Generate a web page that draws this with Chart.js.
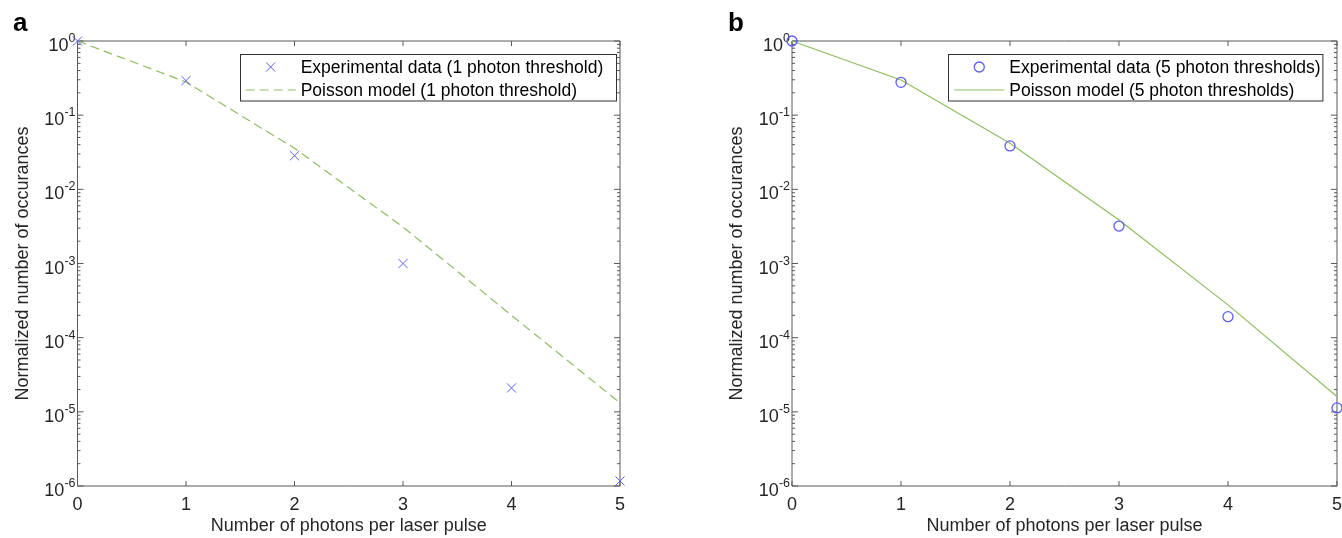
<!DOCTYPE html>
<html>
<head>
<meta charset="utf-8">
<script src="https://cdn.jsdelivr.net/npm/chart.js@4.4.0/dist/chart.umd.min.js"></script>
<style>
  html, body { margin: 0; background: #fff; overflow: hidden; }
  #wrap { position: relative; width: 1342px; height: 538px; overflow: hidden; }
  .panel { position: absolute; top: 0; height: 538px; }
</style>
</head>
<body>
<div id="wrap">
  <div class="panel" style="left:0;width:640px"><canvas id="chartA"></canvas></div>
  <div class="panel" style="left:680px;width:670px"><canvas id="chartB"></canvas></div>
</div>
<script>
// values
const photons = [0, 1, 2, 3, 4, 5];
const expOne = [1, 0.292, 0.0284, 0.00100, 2.1e-5, 1.17e-6];
const modelOne = [1, 0.28, 0.0358, 0.0031, 2.0e-4, 1.32e-5];
const expFive = [1, 0.277, 0.0385, 0.0032, 1.92e-4, 1.13e-5];
const modelFive = [1, 0.298, 0.0418, 0.00387, 2.77e-4, 1.61e-5];
const decades = [0, -1, -2, -3, -4, -5, -6];

const xTitle = 'Number of photons per laser pulse';
const yTitle = 'Normalized number of occurances';
const FONT = '"Liberation Sans", Arial, sans-serif';
const INK = '#262626';
const BLUE = '#5c5cff';
const GREEN = '#8cbf5c';

Chart.defaults.color = INK;
Chart.defaults.font.family = FONT;

const pts = (ys) => photons.map((x, i) => ({ x: x, y: ys[i] }));

// MATLAB-like box, inward ticks, superscript tick labels, legend, panel letter
const matlabAxes = {
  id: 'matlabAxes',
  beforeDatasetsDraw(chart) {
    const { ctx, chartArea: a, scales: { x, y } } = chart;
    ctx.save();
    ctx.strokeStyle = '#5a5a5a';
    ctx.lineWidth = 1;
    ctx.beginPath();
    ctx.rect(a.left, a.top, a.right - a.left, a.bottom - a.top);
    photons.forEach(v => {
      const px = x.getPixelForValue(v);
      ctx.moveTo(px, a.bottom); ctx.lineTo(px, a.bottom - 5);
      ctx.moveTo(px, a.top); ctx.lineTo(px, a.top + 5);
    });
    decades.forEach(d => {
      const py = y.getPixelForValue(Math.pow(10, d));
      ctx.moveTo(a.left, py); ctx.lineTo(a.left + 6, py);
      ctx.moveTo(a.right, py); ctx.lineTo(a.right - 6, py);
      if (d < 0) {
        for (let k = 2; k < 10; k++) {
          const pm = y.getPixelForValue(k * Math.pow(10, d));
          ctx.moveTo(a.left, pm); ctx.lineTo(a.left + 3, pm);
          ctx.moveTo(a.right, pm); ctx.lineTo(a.right - 3, pm);
        }
      }
    });
    ctx.stroke();

    // y tick labels 10^n
    ctx.fillStyle = INK;
    ctx.textBaseline = 'alphabetic';
    ctx.textAlign = 'left';
    decades.forEach(d => {
      const py = y.getPixelForValue(Math.pow(10, d));
      const ex = d === 0 ? '0' : '-' + (-d);
      ctx.font = '12.5px ' + FONT;
      const we = ctx.measureText(ex).width;
      ctx.font = '18px ' + FONT;
      const wb = ctx.measureText('10').width;
      const right = a.left - 2;
      ctx.fillText('10', right - we - wb, py + 10);
      ctx.font = '12.5px ' + FONT;
      ctx.fillText(ex, right - we, py + 1);
    });
    ctx.restore();
  },
  afterDraw(chart, args, o) {
    const { ctx, chartArea: a } = chart;
    ctx.save();
    // panel letter
    ctx.fillStyle = '#000';
    ctx.font = 'bold 26px ' + FONT;
    ctx.textBaseline = 'alphabetic';
    ctx.fillText(o.letter, o.letterX, 31);

    // legend
    const bx = a.right - o.inset - o.width;
    const by = a.top + 13;
    ctx.fillStyle = '#fff';
    ctx.fillRect(bx, by, o.width, o.height);
    ctx.strokeStyle = '#333';
    ctx.lineWidth = 1;
    ctx.strokeRect(Math.round(bx) + 0.5, Math.round(by) + 0.5, o.width, o.height);
    chart.data.datasets.forEach((ds, i) => {
      const cy = by + 13 + i * 23;
      const sx0 = bx + 6, sx1 = bx + 56;
      ctx.save();
      ctx.strokeStyle = ds.borderColor;
      ctx.lineWidth = ds.borderWidth;
      if (ds.showLine) {
        ctx.setLineDash(ds.borderDash || []);
        ctx.beginPath();
        ctx.moveTo(sx0, cy); ctx.lineTo(sx1, cy);
        ctx.stroke();
      } else {
        Chart.helpers.drawPoint(ctx, {
          pointStyle: ds.pointStyle, radius: ds.pointRadius,
          borderWidth: ds.borderWidth, rotation: 0
        }, (sx0 + sx1) / 2, cy);
      }
      ctx.restore();
      ctx.fillStyle = '#000';
      ctx.font = '17.5px ' + FONT;
      ctx.textBaseline = 'middle';
      ctx.fillText(ds.label, bx + 61, cy + 1);
    });
    ctx.restore();
  }
};

function makeChart(id, sets, yWidth, yTitlePad, padRight, legendOpts) {
  return new Chart(document.getElementById(id), {
    type: 'scatter',
    data: { datasets: sets },
    options: {
      responsive: true,
      maintainAspectRatio: false,
      animation: false,
      events: [],
      layout: { padding: { top: 41, right: padRight, bottom: 0, left: 0 } },
      scales: {
        x: {
          type: 'linear',
          min: 0,
          max: 5,
          grid: { display: false, drawTicks: false },
          border: { display: false },
          ticks: { stepSize: 1, autoSkip: false, maxRotation: 0, padding: 8, font: { size: 18 } },
          title: { display: true, text: xTitle, font: { size: 18 }, padding: { top: 0, bottom: 1 } },
          afterFit: (s) => { s.height = 52; }
        },
        y: {
          type: 'logarithmic',
          min: 1e-6,
          max: 1,
          grid: { display: false, drawTicks: false },
          border: { display: false },
          ticks: { display: false },
          title: { display: true, text: yTitle, font: { size: 18 }, padding: { top: yTitlePad, bottom: 0 } },
          afterFit: (s) => { s.width = yWidth; }
        }
      },
      plugins: {
        legend: { display: false },
        tooltip: { enabled: false },
        matlabAxes: legendOpts
      }
    },
    plugins: [matlabAxes]
  });
}

makeChart('chartA', [
  {
    label: 'Experimental data (1 photon threshold)',
    data: pts(expOne),
    showLine: false,
    pointStyle: 'crossRot',
    pointRadius: 6.5,
    borderColor: BLUE,
    backgroundColor: BLUE,
    borderWidth: 1,
    clip: false
  },
  {
    label: 'Poisson model (1 photon threshold)',
    data: pts(modelOne),
    showLine: true,
    pointRadius: 0,
    borderColor: GREEN,
    borderWidth: 1.2,
    borderDash: [9, 5],
    clip: false
  }
], 77.5, 12.5, 20, { letter: 'a', letterX: 13, inset: 4.3, width: 376, height: 46.5 });

makeChart('chartB', [
  {
    label: 'Experimental data (5 photon thresholds)',
    data: pts(expFive),
    showLine: false,
    pointStyle: 'circle',
    pointRadius: 5,
    borderColor: BLUE,
    backgroundColor: 'rgba(0,0,0,0)',
    borderWidth: 1.3,
    clip: false
  },
  {
    label: 'Poisson model (5 photon thresholds)',
    data: pts(modelFive),
    showLine: true,
    pointRadius: 0,
    borderColor: GREEN,
    borderWidth: 1.2,
    clip: false
  }
], 112, 46.5, 0, { letter: 'b', letterX: 48, inset: 14.3, width: 374.4, height: 46.5 });
</script>
</body>
</html>
